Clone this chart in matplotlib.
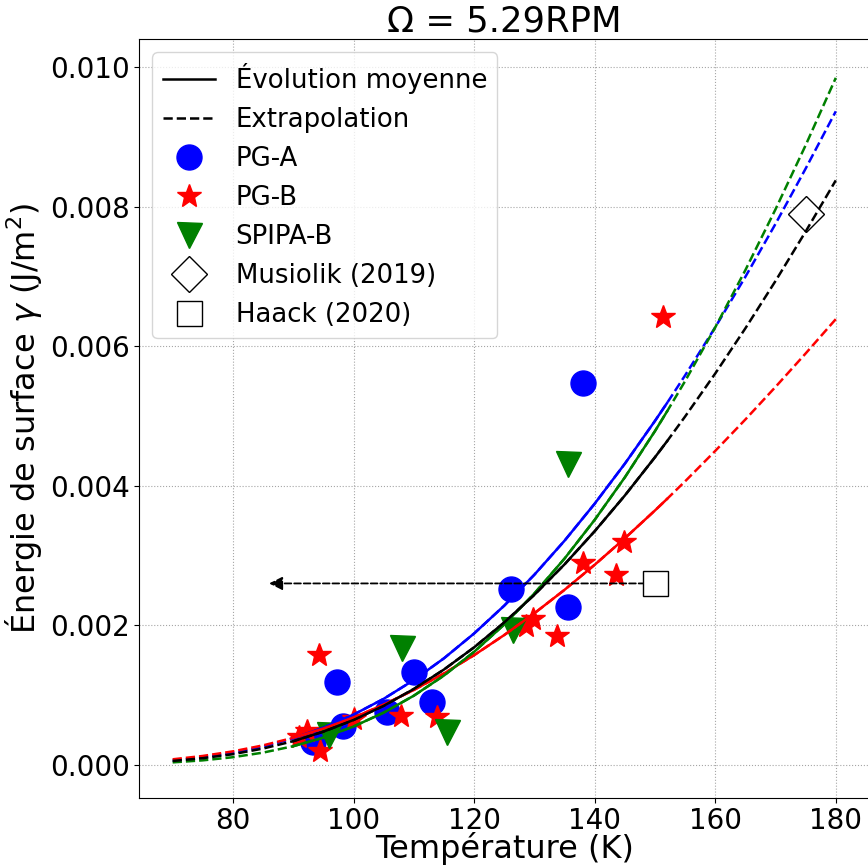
import numpy as np
import matplotlib.pyplot as plt
from matplotlib.lines import Line2D


# --------------------------------------------------
# Data
# --------------------------------------------------

# PG-A (blue circles)
T_pga = [93.3, 97.2, 98.2, 105.6, 110.1, 113.1, 126.1, 135.5, 138.0]
gam_pga = [0.00033, 0.00118, 0.00056, 0.00075, 0.00133, 0.00090, 0.00252, 0.00226, 0.00548]

# PG-B (red stars)
T_pgb = [91.0, 92.3, 94.2, 94.5, 100.0, 107.8, 113.9, 128.6, 129.8, 133.7, 138.0, 143.6, 144.8, 151.4]
gam_pgb = [0.00040, 0.00048, 0.00157, 0.00020, 0.00066, 0.00070, 0.00069,
           0.00199, 0.00209, 0.00185, 0.00289, 0.00272, 0.00319, 0.00642]

# SPIPA-B (green triangles)
T_spipa = [95.9, 108.1, 115.5, 126.5, 135.5]
gam_spipa = [0.00043, 0.00167, 0.00047, 0.00193, 0.00431]

# Literature points
T_musiolik = [175.0]
gam_musiolik = [0.0079]
T_haack = [150.0]
gam_haack = [0.0026]
T_arrow_end = 86.0

# Fitted curves (every 5 K, plus end of the data range)
T_fit = [70, 75, 80, 85, 90, 95, 100, 105, 110, 115, 120, 125, 130, 135,
         140, 145, 150, 152, 155, 160, 165, 170, 175, 180]
fit_mean = [0.000054, 0.000094, 0.000151, 0.000232, 0.000338, 0.000474,
            0.000642, 0.000845, 0.001086, 0.001365, 0.001683, 0.002040,
            0.002437, 0.002873, 0.003348, 0.003860, 0.004409, 0.004638,
            0.004993, 0.005610, 0.006258, 0.006937, 0.007646, 0.008380]
fit_pga = [0.000060, 0.000105, 0.000169, 0.000259, 0.000378, 0.000530,
           0.000718, 0.000945, 0.001214, 0.001526, 0.001882, 0.002281,
           0.002725, 0.003212, 0.003743, 0.004316, 0.004930, 0.005186,
           0.005583, 0.006273, 0.006997, 0.007756, 0.008549, 0.009370]
fit_pgb = [0.000078, 0.000126, 0.000192, 0.000278, 0.000386, 0.000519,
           0.000677, 0.000861, 0.001072, 0.001309, 0.001571, 0.001860,
           0.002172, 0.002508, 0.002867, 0.003247, 0.003646, 0.003811,
           0.004064, 0.004500, 0.004951, 0.005418, 0.005898, 0.006390]
fit_spipa = [0.000034, 0.000063, 0.000108, 0.000174, 0.000266, 0.000389,
             0.000548, 0.000747, 0.000990, 0.001279, 0.001619, 0.002011,
             0.002456, 0.002956, 0.003511, 0.004120, 0.004784, 0.005065,
             0.005501, 0.006272, 0.007093, 0.007965, 0.008884, 0.009850]

T_data_min = 90
T_data_max = 152


# --------------------------------------------------
# Figure
# --------------------------------------------------

fig = plt.figure(figsize=(8.68, 8.68), dpi=100)
ax = fig.add_axes([0.1607, 0.0812, 0.8404, 0.8733])

ms = 18

ax.plot(T_pga, gam_pga, "o", color="blue", ms=ms, ls="none", zorder=2)
ax.plot(T_pgb, gam_pgb, "*", color="red", ms=ms, ls="none", zorder=2)
ax.plot(T_spipa, gam_spipa, "v", color="green", ms=ms, ls="none", zorder=2)
ax.plot(T_musiolik, gam_musiolik, "D", mfc="white", mec="black", mew=1,
        ms=ms, ls="none", zorder=2)

T_fit = np.array(T_fit)
solid = (T_fit >= T_data_min) & (T_fit <= T_data_max)

for curve, col in [(fit_pga, "blue"), (fit_pgb, "red"),
                   (fit_spipa, "green"), (fit_mean, "black")]:
    curve = np.array(curve)
    ax.plot(T_fit, curve, "--", color=col, lw=1.8, zorder=3)
    ax.plot(T_fit[solid], curve[solid], "-", color=col, lw=1.8, zorder=4)

ax.annotate("", xy=(T_arrow_end, gam_haack[0]), xytext=(T_haack[0], gam_haack[0]),
            arrowprops=dict(arrowstyle="-|>", color="black", linestyle="--",
                            lw=1.3, mutation_scale=20, shrinkA=0, shrinkB=0),
            zorder=5)
ax.plot(T_haack, gam_haack, "s", mfc="white", mec="black", mew=1,
        ms=ms, ls="none", zorder=6)

ax.set_xlim(64.5, 185.5)
ax.set_ylim(-0.00047, 0.0104)
ax.set_xticks([80, 100, 120, 140, 160, 180])
ax.set_yticks([0.0, 0.002, 0.004, 0.006, 0.008, 0.010])
ax.set_yticklabels(["0.000", "0.002", "0.004", "0.006", "0.008", "0.010"])
ax.tick_params(labelsize=20)
ax.grid(True, linestyle=":", color="gray", alpha=0.7)

ax.set_xlabel("Température (K)", fontsize=23, labelpad=-2)
ax.set_ylabel(r"Énergie de surface $\gamma$ (J/m$^2$)", fontsize=23)
ax.set_title("Ω = 5.29RPM", fontsize=25.5)

handles = [
    Line2D([], [], color="black", lw=1.8, ls="-"),
    Line2D([], [], color="black", lw=1.8, ls="--"),
    Line2D([], [], color="blue", marker="o", ms=ms, ls="none"),
    Line2D([], [], color="red", marker="*", ms=ms, ls="none"),
    Line2D([], [], color="green", marker="v", ms=ms, ls="none"),
    Line2D([], [], mfc="white", mec="black", marker="D", ms=ms, ls="none"),
    Line2D([], [], mfc="white", mec="black", marker="s", ms=ms, ls="none"),
]
labels = ["Évolution moyenne", "Extrapolation", "PG-A", "PG-B", "SPIPA-B",
          "Musiolik (2019)", "Haack (2020)"]
ax.legend(handles, labels, loc="upper left", fontsize=18.7)

fig.savefig("out.png", dpi=100)
